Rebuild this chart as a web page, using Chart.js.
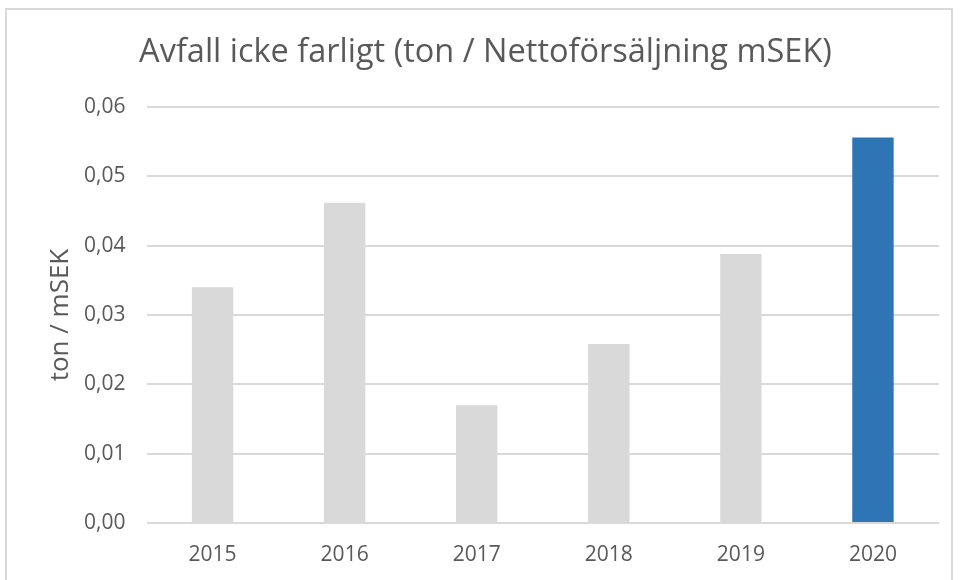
<!DOCTYPE html>
<html>
<head>
<meta charset="utf-8">
<script src="https://cdn.jsdelivr.net/npm/chart.js@4/dist/chart.umd.min.js"></script>
<style>
  html, body { margin: 0; padding: 0; background: #ffffff; }
  #wrap { width: 968px; height: 580px; position: relative; }
</style>
</head>
<body>
<div id="wrap"><canvas id="c" width="968" height="580"></canvas></div>
<script>
const categories = ["2015", "2016", "2017", "2018", "2019", "2020"];
const values = [0.0340, 0.0462, 0.0170, 0.0258, 0.0388, 0.0556];
const barColors = ["#D9D9D9", "#D9D9D9", "#D9D9D9", "#D9D9D9", "#D9D9D9", "#2E75B6"];
const titleText = "Avfall icke farligt (ton / Nettoförsäljning mSEK)";
const yAxisTitle = "ton / mSEK";

const FONT = "'Open Sans', 'Liberation Sans', sans-serif";
const TEXT = "#595959";

const frame = {
  id: "frame",
  beforeDraw(chart) {
    const ctx = chart.ctx;
    ctx.save();
    ctx.fillStyle = "#ffffff";
    ctx.fillRect(0, 0, chart.width, chart.height);
    ctx.strokeStyle = "#D9D9D9";
    ctx.lineWidth = 2;
    ctx.strokeRect(6, 9, 946, 600);
    ctx.restore();
  }
};

new Chart(document.getElementById("c"), {
  type: "bar",
  data: {
    labels: categories,
    datasets: [{
      data: values,
      backgroundColor: barColors,
      borderWidth: 0,
      categoryPercentage: 1,
      barPercentage: 0.3135
    }]
  },
  options: {
    responsive: false,
    animation: false,
    devicePixelRatio: 1,
    layout: { padding: { left: 32, right: 29, top: 0, bottom: 0 } },
    plugins: {
      legend: { display: false },
      tooltip: { enabled: false },
      title: {
        display: true,
        text: titleText,
        color: TEXT,
        font: { family: FONT, size: 32.5, weight: "normal", lineHeight: 1.2 },
        padding: { top: 33.5, bottom: 34.5 }
      }
    },
    scales: {
      x: {
        grid: { display: false, drawTicks: false },
        border: { display: false },
        ticks: { color: TEXT, font: { family: FONT, size: 21 }, padding: 19, maxRotation: 0 },
        afterFit(s) { s.height = 57; }
      },
      y: {
        min: 0, max: 0.06,
        grid: { color: "#D9D9D9", lineWidth: 2, drawTicks: false },
        border: { display: false },
        ticks: {
          stepSize: 0.01,
          color: TEXT,
          padding: 21,
          font: { family: FONT, size: 21 },
          callback: (v) => v.toFixed(2).replace(".", ",")
        },
        title: {
          display: true,
          text: yAxisTitle,
          color: TEXT,
          font: { family: FONT, size: 26 },
          padding: { top: 12.5, bottom: 0 }
        },
        afterFit(s) { s.width = 114.5; }
      }
    }
  },
  plugins: [frame]
});
</script>
</body>
</html>
